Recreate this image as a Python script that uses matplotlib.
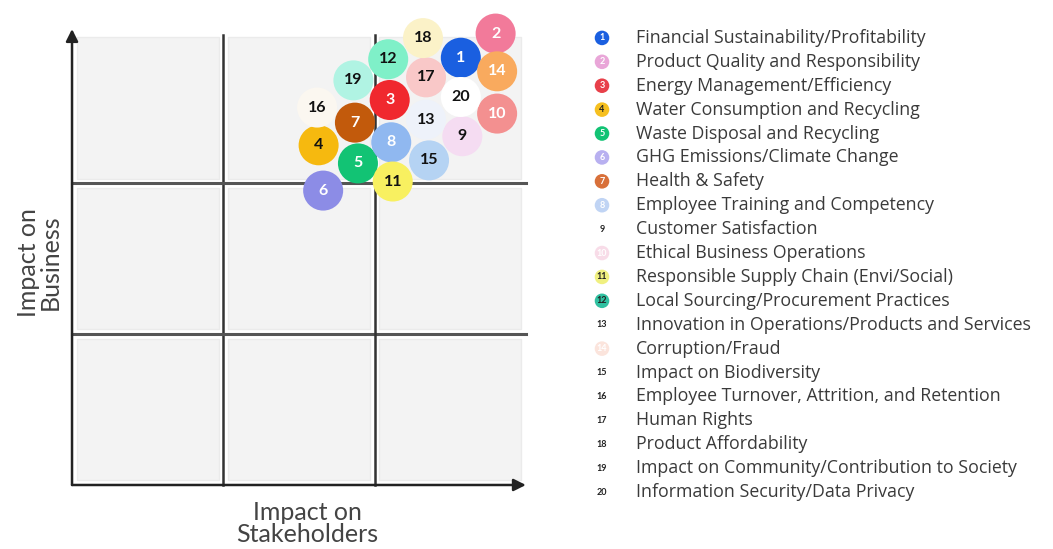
import matplotlib
matplotlib.use('Agg')
import matplotlib.pyplot as plt
from matplotlib.patches import Rectangle

plt.rcParams['font.family'] = ['Lato', 'DejaVu Sans']

# issue numbers, positions in the 3x3 matrix (stakeholders, business)
issue_ids = list(range(1, 21))
stakeholder_impact = [2.57, 2.80, 2.10, 1.63, 1.89, 1.66, 1.87, 2.11, 2.58, 2.81,
                      2.12, 2.09, 2.34, 2.81, 2.36, 1.62, 2.34, 2.32, 1.86, 2.57]
business_impact = [2.83, 2.99, 2.55, 2.25, 2.13, 1.95, 2.40, 2.27, 2.31, 2.46,
                   2.01, 2.82, 2.42, 2.74, 2.15, 2.50, 2.70, 2.96, 2.68, 2.57]
bubble_colors = ['#1a5fe0', '#f27a9a', '#f0282e', '#f6b90f', '#12c374',
                 '#8c8ce6', '#c25a0c', '#90b8f0', '#f5dcf2', '#f39090',
                 '#f8f060', '#7ff0c8', '#eef2fa', '#f9aa5e', '#b5d3f3',
                 '#fbf7f0', '#f9c8c8', '#fbf2c8', '#b0f3e3', '#ffffff']
label_colors = ['white', 'white', 'white', '#111111', 'white',
                'white', 'white', 'white', '#111111', 'white',
                '#111111', '#111111', '#111111', 'white', '#111111',
                '#111111', '#111111', '#111111', '#111111', '#111111']

issue_names = [
    'Financial Sustainability/Profitability',
    'Product Quality and Responsibility',
    'Energy Management/Efficiency',
    'Water Consumption and Recycling',
    'Waste Disposal and Recycling',
    'GHG Emissions/Climate Change',
    'Health & Safety',
    'Employee Training and Competency',
    'Customer Satisfaction',
    'Ethical Business Operations',
    'Responsible Supply Chain (Envi/Social)',
    'Local Sourcing/Procurement Practices',
    'Innovation in Operations/Products and Services',
    'Corruption/Fraud',
    'Impact on Biodiversity',
    'Employee Turnover, Attrition, and Retention',
    'Human Rights',
    'Product Affordability',
    'Impact on Community/Contribution to Society',
    'Information Security/Data Privacy',
]
legend_colors = ['#1a5fe0', '#e9a6d8', '#e8404a', '#f6c020', '#12c374',
                 '#b8b0f0', '#d8703a', '#c0d4f4', '#ffffff', '#f8dce8',
                 '#f0f080', '#30c0a0', '#ffffff', '#fbe4dc', '#ffffff',
                 '#ffffff', '#ffffff', '#ffffff', '#ffffff', '#ffffff']
legend_text_colors = ['white', 'white', 'white', '#222222', 'white',
                      'white', 'white', 'white', '#222222', 'white',
                      '#222222', '#222222', '#222222', 'white', '#222222',
                      '#222222', '#222222', '#222222', '#222222', '#222222']

fig = plt.figure(figsize=(10.53, 5.49), dpi=100)
fig.patch.set_facecolor('white')

# --- matrix ---
ax = fig.add_axes([0.0684, 0.1166, 0.431, 0.825])
ax.set_xlim(0, 3)
ax.set_ylim(0, 3)
ax.axis('off')

for i in range(3):
    for j in range(3):
        ax.add_patch(Rectangle((i + 0.03, j + 0.03), 0.94, 0.94,
                               facecolor='#f3f3f3', edgecolor='#ebebeb',
                               lw=1, zorder=0, clip_on=False))

for v in [1, 2]:
    ax.plot([v, v], [0, 2.98], color='#333333', lw=1.8, zorder=1, clip_on=False)
    ax.plot([0, 3.0], [v, v], color='#555555', lw=2.2, zorder=1, clip_on=False)

ax.annotate('', xy=(0, 3.02), xytext=(0, 0),
            arrowprops=dict(arrowstyle='-|>', color='#222222', lw=1.8,
                            mutation_scale=18, shrinkA=0, shrinkB=0),
            annotation_clip=False)
ax.annotate('', xy=(3.0, 0), xytext=(0, 0),
            arrowprops=dict(arrowstyle='-|>', color='#222222', lw=1.8,
                            mutation_scale=18, shrinkA=0, shrinkB=0),
            annotation_clip=False)

ax.scatter(stakeholder_impact, business_impact, s=830, c=bubble_colors,
           edgecolors='none', zorder=3, clip_on=False)
for k, n in enumerate(issue_ids):
    ax.text(stakeholder_impact[k], business_impact[k], str(n),
            ha='center', va='center', fontsize=11.5, fontweight='bold',
            color=label_colors[k], zorder=4)

ax.text(-0.072, 0.492, 'Impact on\nBusiness', transform=ax.transAxes,
        rotation=90, ha='center', va='center', fontsize=18,
        color='#444444', linespacing=0.95)
ax.text(0.518, -0.085, 'Impact on\nStakeholders', transform=ax.transAxes,
        ha='center', va='center', fontsize=18, color='#444444',
        linespacing=0.95)

# --- legend ---
lax = fig.add_axes([0.5603, 0.082, 0.44, 0.8707])
lax.set_xlim(0, 463)
lax.set_ylim(19.5, -0.5)
lax.axis('off')

rows = list(range(len(issue_names)))
lax.scatter([12] * len(rows), rows, s=110, c=legend_colors, edgecolors='none')
for r in rows:
    lax.text(12, r, str(issue_ids[r]), ha='center', va='center', fontsize=6.5,
             fontweight='bold', color=legend_text_colors[r])
    lax.text(46, r, issue_names[r], ha='left', va='center', fontsize=12.8,
             color='#3a3a3a', family=['Open Sans', 'DejaVu Sans'])

fig.savefig('out.png', dpi=100, facecolor='white')
